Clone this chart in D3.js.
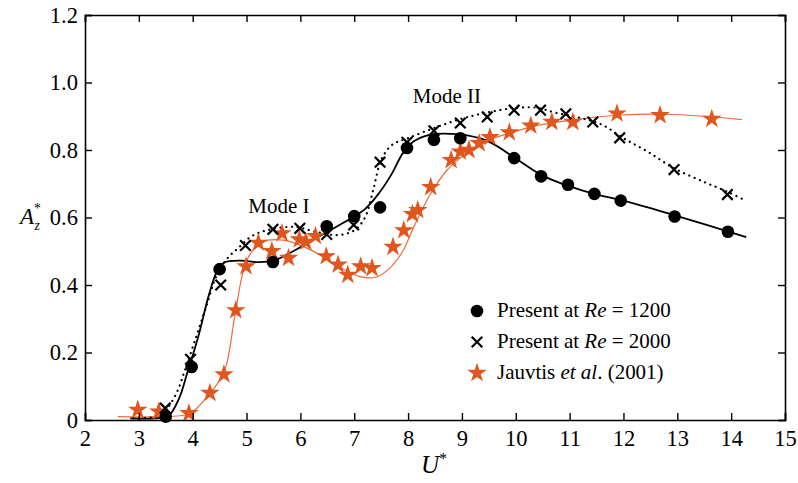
<!DOCTYPE html>
<html><head><meta charset="utf-8">
<script src="https://cdn.jsdelivr.net/npm/d3@7"></script>
<style>
body{margin:0;background:#fff;}
</style></head>
<body><svg id="c" width="798" height="483"></svg>
<script>
// ---- data ----
const xTicks = [2,3,4,5,6,7,8,9,10,11,12,13,14,15];
const yTicks = [0,0.2,0.4,0.6,0.8,1.0,1.2];
const yTickLabels = ["0","0.2","0.4","0.6","0.8","1.0","1.2"];

// Present at Re = 1200 (circles)
const re1200U = [3.5,3.98,4.5,5.49,6.49,7.0,7.48,7.98,8.48,8.97,9.97,10.47,10.97,11.46,11.95,12.95,13.94];
const re1200A = [0.01,0.157,0.447,0.468,0.574,0.604,0.63,0.806,0.83,0.835,0.776,0.722,0.697,0.67,0.65,0.603,0.558];
// fit line through Re=1200 (solid)
const fit1200U = [2.84,3.3,3.55,3.75,3.9,4.1,4.3,4.45,4.58,4.9,5.2,5.5,5.9,6.5,7.0,7.2,7.45,7.7,7.9,8.1,8.4,8.8,9.1,9.5,10.0,10.5,11.0,11.5,12.0,13.0,14.28];
const fit1200A = [0.005,0.005,0.012,0.065,0.14,0.245,0.37,0.44,0.466,0.472,0.468,0.472,0.503,0.558,0.603,0.625,0.67,0.73,0.79,0.825,0.845,0.848,0.843,0.825,0.775,0.724,0.692,0.668,0.65,0.604,0.542];

// Present at Re = 2000 (crosses)
const re2000U = [3.49,3.96,4.52,4.98,5.49,5.99,6.49,6.99,7.48,7.98,8.48,8.97,9.47,9.97,10.46,10.93,11.43,11.93,12.94,13.93];
const re2000A = [0.035,0.18,0.4,0.517,0.565,0.568,0.55,0.578,0.764,0.823,0.857,0.88,0.898,0.918,0.918,0.907,0.883,0.836,0.742,0.668];
// fit line through Re=2000 (dotted)
const fit2000U = [2.9,3.3,3.5,3.7,3.85,4.05,4.25,4.45,4.65,4.85,5.1,5.45,5.9,6.3,6.7,7.0,7.2,7.35,7.5,7.7,8.0,8.5,9.0,9.5,10.0,10.4,10.7,11.2,11.6,12.0,12.45,12.95,13.5,13.95,14.28];
const fit2000A = [0.005,0.01,0.03,0.08,0.145,0.24,0.335,0.43,0.48,0.51,0.545,0.565,0.572,0.557,0.548,0.562,0.6,0.68,0.77,0.815,0.835,0.866,0.893,0.912,0.925,0.925,0.912,0.895,0.875,0.835,0.795,0.745,0.705,0.675,0.649];

// Jauvtis et al. (2001) (stars)
const jauU = [2.98,3.37,3.93,4.32,4.58,4.8,4.99,5.22,5.47,5.66,5.78,5.98,6.1,6.28,6.48,6.7,6.88,7.12,7.33,7.72,7.92,8.08,8.18,8.42,8.8,8.97,9.13,9.32,9.52,9.88,10.28,10.67,11.06,11.88,12.68,13.64];
const jauA = [0.03,0.025,0.02,0.08,0.135,0.325,0.455,0.525,0.5,0.553,0.48,0.535,0.528,0.545,0.485,0.46,0.43,0.455,0.45,0.513,0.562,0.61,0.622,0.69,0.77,0.795,0.8,0.82,0.838,0.852,0.872,0.883,0.883,0.908,0.903,0.892];
// fit line through Jauvtis data (thin orange)
const fitJauU = [2.61,3.3,3.95,4.32,4.58,4.78,4.93,5.06,5.3,5.68,5.99,6.36,6.73,7.1,7.4,7.66,7.9,8.1,8.4,8.72,9.09,9.52,9.95,10.4,11.0,11.9,12.7,13.5,14.2];
const fitJauA = [0.01,0.01,0.02,0.08,0.14,0.306,0.435,0.49,0.528,0.533,0.518,0.49,0.452,0.425,0.423,0.45,0.5,0.57,0.665,0.74,0.79,0.83,0.853,0.873,0.888,0.903,0.906,0.9,0.89];

const legendLabels = [["Present at ","Re"," = 1200"],["Present at ","Re"," = 2000"],["Jauvtis ","et al",". (2001)"]];
const annotations = [["Mode I",5.6,0.612],["Mode II",8.72,0.938]];

// ---- pick an installed serif font ----
const probe = d3.select("body").append("svg").attr("width",10).attr("height",10);
const pt = probe.append("text").attr("font-size",40).text("Mode II 0123456789 Present wmlli");
const wOf = f=>{pt.attr("font-family",f);return pt.node().getComputedTextLength();};
function pickSerif(){
  const bases = ["monospace","sans-serif","serif"];
  const bw = bases.map(wOf);
  const cands = ["Liberation Serif","Times New Roman","Tinos","Nimbus Roman","Nimbus Roman No9 L","DejaVu Serif","Noto Serif","FreeSerif"];
  for(const c of cands){
    if(bases.some((b,i)=>Math.abs(wOf(`'${c}', ${b}`)-bw[i])>0.5)) return `'${c}', serif`;
  }
  return "serif";
}
const FONT = pickSerif();
// scale font so the legend text width matches the reference (~175px)
pt.attr("font-family",FONT).attr("font-size",20).text("Present at Re = 1200");
const K = Math.min(1.15, Math.max(0.75, 175 / pt.node().getComputedTextLength()));
probe.remove();
const fs = v => v*K;

// ---- drawing ----
const svg = d3.select("#c").attr("font-family",FONT);
const x = d3.scaleLinear().domain([2,15]).range([85,785]);
const y = d3.scaleLinear().domain([0,1.2]).range([420,15]);
const orange = "#e0561f", orangeLine = "#f06a3c";

const line = d3.line().curve(d3.curveCatmullRom.alpha(0.5));
const pts = (U,A)=>U.map((u,i)=>[x(u),y(A[i])]);

svg.append("path").attr("d",line(pts(fitJauU,fitJauA))).attr("fill","none").attr("stroke",orangeLine).attr("stroke-width",1.2);
svg.append("path").attr("d",line(pts(fit1200U,fit1200A))).attr("fill","none").attr("stroke","#000").attr("stroke-width",1.8);
svg.append("path").attr("d",line(pts(fit2000U,fit2000A))).attr("fill","none").attr("stroke","#000").attr("stroke-width",2.2)
  .attr("stroke-dasharray","0.1,5.6").attr("stroke-linecap","round");

// markers
const star = d3.symbol().type(d3.symbolStar).size(118);
svg.append("g").selectAll("path").data(jauU.map((u,i)=>[u,jauA[i]])).join("path")
  .attr("d",star).attr("transform",d=>`translate(${x(d[0])},${y(d[1])})`).attr("fill",orange);
svg.append("g").selectAll("circle").data(re1200U.map((u,i)=>[u,re1200A[i]])).join("circle")
  .attr("cx",d=>x(d[0])).attr("cy",d=>y(d[1])).attr("r",6.3).attr("fill","#000");
const cross = (g,cx,cy,s)=>g.append("path").attr("d",`M${cx-s},${cy-s}L${cx+s},${cy+s}M${cx-s},${cy+s}L${cx+s},${cy-s}`)
  .attr("stroke","#000").attr("stroke-width",2.2).attr("fill","none");
const cg = svg.append("g");
re2000U.forEach((u,i)=>cross(cg,x(u),y(re2000A[i]),5.3));

// axes (ticks inward)
const ax = svg.append("g");
ax.append("g").attr("transform","translate(0,420)").call(d3.axisBottom(x).tickValues(xTicks).tickSize(-7).tickPadding(10).tickFormat(d3.format("d")));
ax.append("g").attr("transform","translate(0,15)").call(d3.axisTop(x).tickValues(xTicks).tickSize(-7).tickFormat(""));
const gL = ax.append("g").attr("transform","translate(85,0)").call(d3.axisLeft(y).tickValues(yTicks).tickSize(-7).tickPadding(8).tickFormat((d,i)=>yTickLabels[i]));
ax.append("g").attr("transform","translate(785,0)").call(d3.axisRight(y).tickValues(yTicks).tickSize(-7).tickFormat(""));
ax.selectAll("g").attr("font-family",FONT);
ax.selectAll("path.domain").attr("stroke","#000").attr("stroke-width",1.6);
ax.selectAll(".tick line").attr("stroke","#000").attr("stroke-width",1.4);
ax.selectAll(".tick text").attr("font-size",fs(21.5)).attr("fill","#000");
gL.selectAll(".tick text").attr("x",-7);

// axis titles
const xl = svg.append("text").attr("x",421).attr("y",473).attr("font-size",fs(24));
xl.append("tspan").attr("font-style","italic").text("U");
xl.append("tspan").attr("dy",-9).attr("font-size",fs(15)).text("*");
const yl = svg.append("text").attr("x",20).attr("y",224).attr("font-size",fs(22));
yl.append("tspan").attr("font-style","italic").text("A");
yl.append("tspan").attr("dy",-11).attr("font-size",fs(13)).text("*");
yl.append("tspan").attr("dx",-6.5).attr("dy",17).attr("font-size",fs(13)).attr("font-style","italic").text("z");

// annotations
annotations.forEach(a=>svg.append("text").attr("x",x(a[1])).attr("y",y(a[2])).attr("text-anchor","middle").attr("font-size",fs(20)).text(a[0]));

// legend
const ly=[311,342,373];
svg.append("circle").attr("cx",477).attr("cy",ly[0]).attr("r",6.3).attr("fill","#000");
cross(svg,477,ly[1],5.3);
svg.append("path").attr("d",star).attr("transform",`translate(477,${ly[2]})`).attr("fill",orange);
legendLabels.forEach((l,i)=>{
  const t=svg.append("text").attr("x",497).attr("y",ly[i]+6).attr("font-size",fs(20));
  t.append("tspan").text(l[0]);
  t.append("tspan").attr("font-style","italic").text(l[1]);
  t.append("tspan").text(l[2]);
});
</script></body></html>
